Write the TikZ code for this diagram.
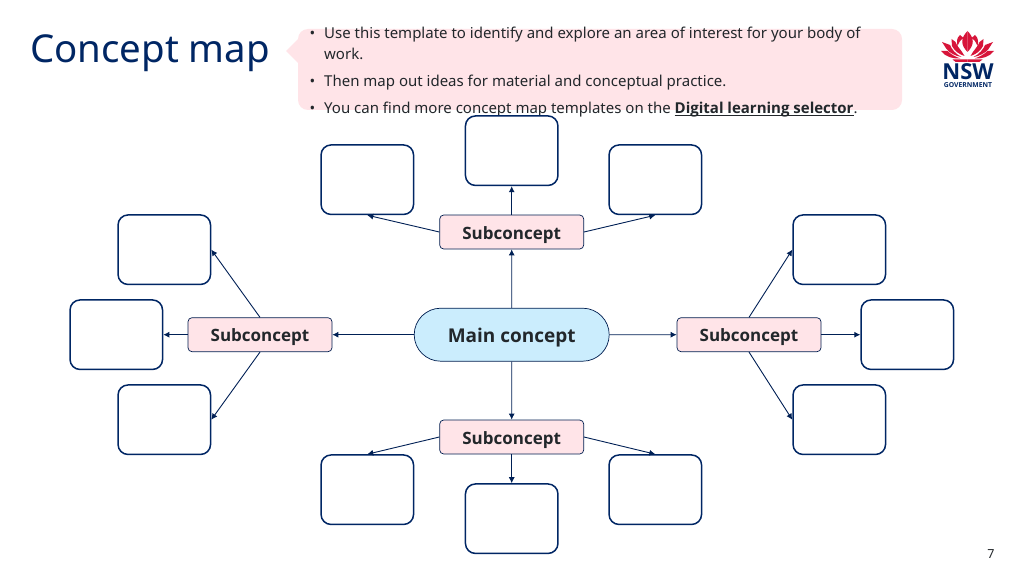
\documentclass[tikz,border=0pt]{standalone}
\usepackage{fontspec}
\setmainfont{Noto Sans}[BoldFont={Open Sans Bold}]
\usetikzlibrary{arrows.meta,shapes.misc}
\definecolor{navy}{HTML}{002664}
\definecolor{ink}{HTML}{22272B}
\definecolor{blush}{HTML}{FFE4E8}
\definecolor{sky}{HTML}{CBEDFD}
\definecolor{nswred}{HTML}{D7153A}
\newsavebox\linkbox
\newcommand\linktext[1]{\sbox\linkbox{#1}\rlap{\rule[-2.6pt]{\wd\linkbox}{1.3pt}}\usebox\linkbox}
\tikzset{
  x=1pt,y=-1pt,
  emptybox/.style={draw=navy,line width=1.5pt,fill=white,rounded corners=10pt,minimum width=92.5pt,minimum height=69.5pt,inner sep=0pt},
  subbox/.style={draw=navy!80!black,line width=0.7pt,fill=blush,rounded corners=4pt,minimum width=144pt,minimum height=34pt,inner sep=0pt,text=ink,text height=14pt,text depth=0pt,font=\fontsize{17}{19}\selectfont\bfseries},
  mainbox/.style={draw=navy!80!black,line width=0.7pt,fill=sky,rounded rectangle,minimum width=195pt,minimum height=53pt,inner sep=0pt,text=ink,text height=16pt,text depth=0pt,font=\fontsize{19}{22}\selectfont\bfseries},
  link/.style={draw=navy!85!black,line width=0.9pt,-{Latex[length=6pt,width=6pt]}},
  bodytext/.style={anchor=base west,inner sep=0pt,text=ink,font=\fontsize{15}{17}\selectfont},
  petal/.style={fill=nswred,draw=none},
}
\begin{document}
\begin{tikzpicture}
\useasboundingbox (0,0) rectangle (1024,575);
\fill[white] (0,0) rectangle (1024,575);
% callout
\fill[blush,rounded corners=10pt] (298,29) rectangle (902,110);
\fill[blush] (286,51) -- (300,37) -- (300,65) -- cycle;
% title
\node[anchor=base west,inner sep=0pt,text=navy,font=\fontsize{38.4}{44}\selectfont] (title) at (30,63) {Concept map};
% bullets
\node[bodytext] (b1) at (309.5,38.5) {•};
\node[bodytext] (t1) at (324,38.5) {Use this template to identify and explore an area of interest for your body of};
\node[bodytext] (t1b) at (324,59.5) {work.};
\node[bodytext] (b2) at (309.5,86.5) {•};
\node[bodytext] (t2) at (324,86.5) {Then map out ideas for material and conceptual practice.};
\node[bodytext] (b3) at (309.5,113.5) {•};
\node[bodytext] (t3) at (324,113.5) {You can find more concept map templates on the \linktext{\textbf{Digital learning selector}}.};
% boxes
\node[emptybox] (tl) at (367.3,179.7) {};
\node[emptybox] (tc) at (511.7,150.7) {};
\node[emptybox] (tr) at (655.3,179.7) {};
\node[emptybox] (lt) at (164.3,249.7) {};
\node[emptybox] (lc) at (116.3,334.7) {};
\node[emptybox] (lb) at (164.3,419.7) {};
\node[emptybox] (rt) at (839.3,249.7) {};
\node[emptybox] (rc) at (907.3,334.7) {};
\node[emptybox] (rb) at (839.3,419.7) {};
\node[emptybox] (bl) at (367.3,489.7) {};
\node[emptybox] (bc) at (511.7,518.7) {};
\node[emptybox] (br) at (655.3,489.7) {};
% subconcepts
\node[subbox] (st) at (511.7,232) {Subconcept};
\node[subbox] (sl) at (260,334.7) {Subconcept};
\node[subbox] (sr) at (749,334.7) {Subconcept};
\node[subbox] (sb) at (511.7,437) {Subconcept};
\node[mainbox] (m) at (511.7,334.7) {Main concept};
% links
\draw[link] (m) -- (st);
\draw[link] (m) -- (sb);
\draw[link] (m) -- (sl);
\draw[link] (m) -- (sr);
\draw[link] (st) -- (tc);
\draw[link] (st.west) -- (tl.south);
\draw[link] (st.east) -- (tr.south);
\draw[link] (sb) -- (bc);
\draw[link] (sb.west) -- (bl.north);
\draw[link] (sb.east) -- (br.north);
\draw[link] (sl) -- (lc);
\draw[link] (sl.north) -- (lt.east);
\draw[link] (sl.south) -- (lb.east);
\draw[link] (sr) -- (rc);
\draw[link] (sr.north) -- (rt.west);
\draw[link] (sr.south) -- (rb.west);
% logo
\foreach \s in {1,-1}{
 \begin{scope}[shift={(967.5,0)},xscale=\s]
  \fill[petal] (0,52) .. controls (-7,45) and (-7,38) .. (0,31) -- (0,52) -- cycle;
  \fill[petal] (7.5,35) .. controls (11,38) and (11,42) .. (10,46) .. controls (8,41) and (6,39) .. (4,38) -- cycle;
  \fill[petal] (16,39) -- (15.5,46) .. controls (13,51) and (9,54) .. (3,56) .. controls (6,50) and (11,46) .. (12,42) -- cycle;
  \fill[petal] (25.5,42) -- (21,49) .. controls (18,53) and (12,56) .. (6,57) .. controls (12,54) and (16,49) .. (17.5,45) -- cycle;
  \fill[petal] (26.5,51) .. controls (22,57) and (14,59) .. (7,58.5) .. controls (12,57) and (17,54) .. (20,51) -- cycle;
  \fill[petal] (0,59.5) -- (15,59.5) -- (12,61.8) -- (0,61.8) -- cycle;
 \end{scope}}
\node[anchor=base,inner sep=0pt,text height=15pt,text depth=0pt,text=navy,font=\fontsize{22}{24}\selectfont\bfseries] (nsw) at (968,80) {NSW};
\node[anchor=base,inner sep=0pt,text height=5pt,text depth=0pt,text=navy,font=\fontsize{6.8}{7}\selectfont\bfseries] (gov) at (968,88) {GOVERNMENT};
% page number
\node[inner sep=0pt,text=ink,font=\fontsize{12.5}{14}\selectfont] (page) at (991,554) {7};
\end{tikzpicture}
\end{document}
